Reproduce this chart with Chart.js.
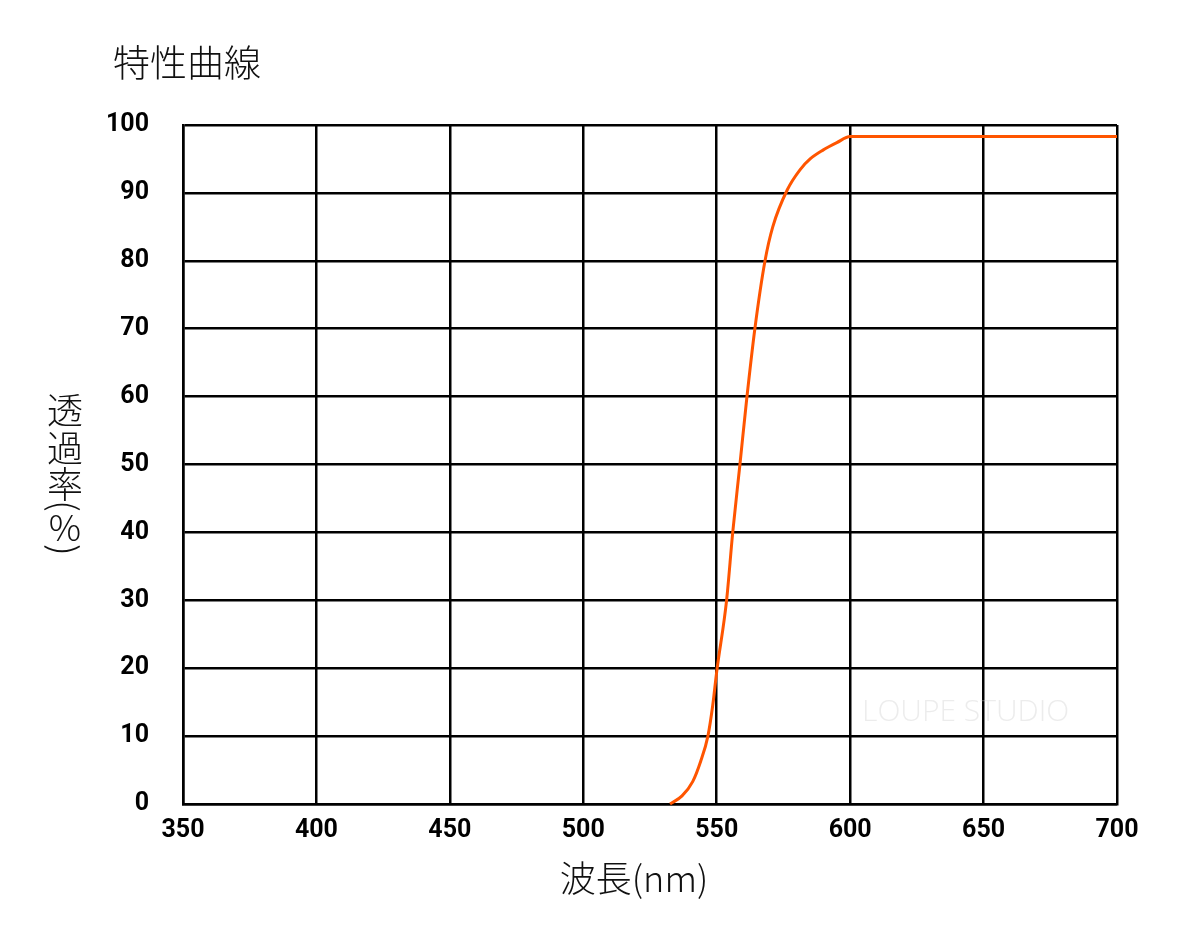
<!DOCTYPE html>
<html>
<head>
<meta charset="utf-8">
<script src="https://cdn.jsdelivr.net/npm/chart.js@4/dist/chart.umd.min.js"></script>
<style>
html,body{margin:0;padding:0;background:#fff;}
canvas{display:block;}
</style>
</head>
<body>
<canvas id="c" width="1200" height="942"></canvas>
<script>
// Data
const wavelengths = [532.5, 537, 541, 544, 546.7, 548.5, 550, 553.7, 556, 558.7, 561.2, 564.3, 568.1, 571, 576.5, 581.2, 585, 589.8, 595, 600, 650, 700];
const transmittance = [0, 1.2, 3.3, 6.3, 10.0, 14.5, 19.5, 30, 40, 50, 59.5, 70, 80, 85, 90.5, 93.4, 95.0, 96.3, 97.4, 98.3, 98.3, 98.3];
const xTicks = [350, 400, 450, 500, 550, 600, 650, 700];
const yTicks = [0, 10, 20, 30, 40, 50, 60, 70, 80, 90, 100];
const titleText = '特性曲線';
const xTitle = '波長(nm)';
const yTitleChars = ['透', '過', '率', '(', '%', ')'];
const watermark = 'LOUPE STUDIO';

const points = wavelengths.map((w, i) => ({x: w, y: transmittance[i]}));

const textPlugin = {
  id: 'texts',
  afterDraw(chart) {
    const ctx = chart.ctx;
    ctx.save();
    ctx.fillStyle = '#111';
    ctx.font = '300 37px "Noto Sans CJK JP", "Noto Sans CJK SC", sans-serif';
    ctx.textAlign = 'left';
    ctx.textBaseline = 'middle';
    ctx.fillText(titleText, 113, 63);
    ctx.font = '300 36px "Noto Sans CJK JP", "Noto Sans CJK SC", sans-serif';
    ctx.textAlign = 'center';
    ctx.fillText(xTitle, 634, 878);
    const ys = [410, 448, 484, 506, 527, 550];
    yTitleChars.forEach((ch, i) => {
      ctx.save();
      ctx.translate(65, ys[i]);
      if (ch === '(' || ch === ')') {
        ctx.rotate(Math.PI / 2);
      }
      ctx.textAlign = 'center';
      ctx.textBaseline = 'middle';
      ctx.fillText(ch, 0, 0);
      ctx.restore();
    });
    ctx.fillStyle = 'rgba(200,200,200,0.35)';
    ctx.font = '300 30px "Open Sans", sans-serif';
    ctx.textAlign = 'left';
    ctx.fillText(watermark, 862, 712);
    ctx.restore();
  }
};

const tickFont = {family: '"Liberation Sans Narrow", "Roboto", sans-serif', size: 25, weight: 'bold'};

new Chart(document.getElementById('c'), {
  type: 'line',
  data: {
    datasets: [{
      data: points,
      borderColor: '#ff5500',
      borderWidth: 3,
      pointRadius: 0,
      fill: false,
      cubicInterpolationMode: 'monotone',
      clip: false
    }]
  },
  options: {
    responsive: false,
    animation: false,
    devicePixelRatio: 1,
    layout: {padding: {top: 125, right: 83, left: 0, bottom: 0}},
    plugins: {legend: {display: false}, tooltip: {enabled: false}, title: {display: false}},
    scales: {
      x: {
        type: 'linear',
        min: 350, max: 700,
        afterBuildTicks(scale) { scale.ticks = xTicks.map(v => ({value: v})); },
        afterFit(scale) { scale.height = 138; },
        grid: {color: '#000', lineWidth: 2.5, drawTicks: false},
        border: {color: '#000', width: 2.5},
        ticks: {padding: 12, color: '#000', font: tickFont, maxRotation: 0}
      },
      y: {
        min: 0, max: 100,
        afterBuildTicks(scale) { scale.ticks = yTicks.map(v => ({value: v})); },
        afterFit(scale) { scale.width = 183; },
        grid: {color: '#000', lineWidth: 2.5, drawTicks: false},
        border: {color: '#000', width: 2.5},
        ticks: {padding: 34, color: '#000', font: tickFont}
      }
    }
  },
  plugins: [textPlugin]
});
</script>
</body>
</html>
